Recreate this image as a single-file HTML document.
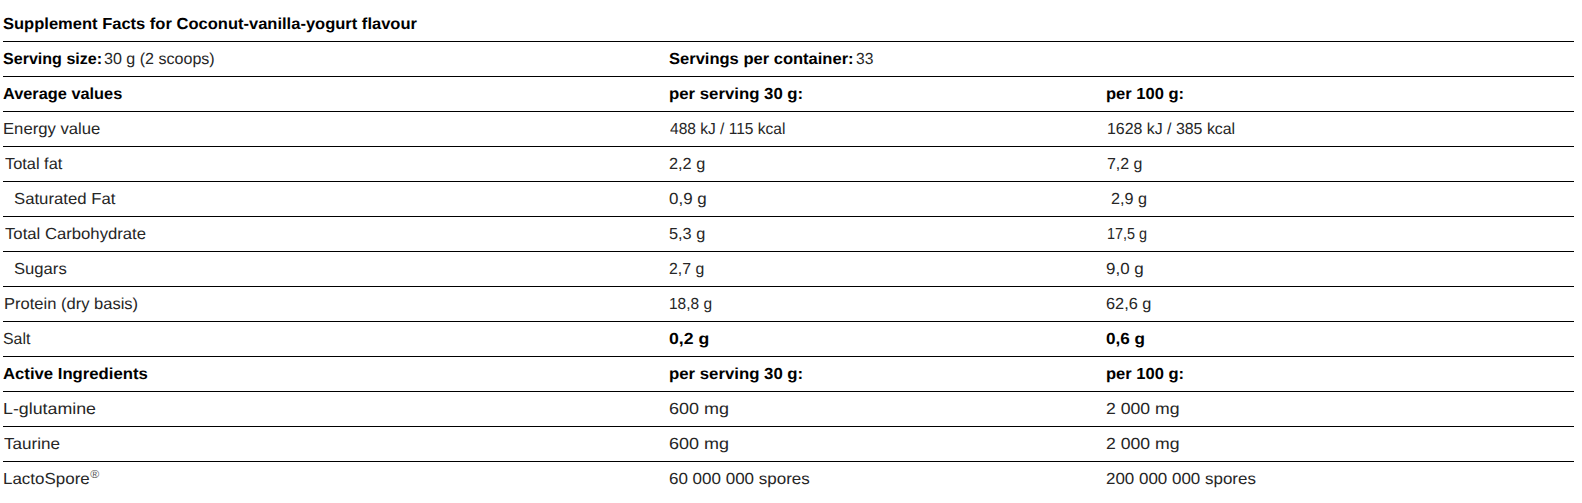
<!DOCTYPE html>
<html><head><meta charset="utf-8">
<style>
html,body{margin:0;padding:0;background:#fff;}
body{width:1582px;height:503px;overflow:hidden;position:relative;font-family:"Liberation Sans",sans-serif;font-size:16px;color:#262626;text-rendering:geometricPrecision;}
.l{position:absolute;left:3px;width:1571px;height:1px;background:#000;}
.c{position:absolute;white-space:pre;line-height:20px;height:20px;transform-origin:0 0;}
b{font-weight:bold;color:#000;}
sup{color:#555;font-size:11.5px;vertical-align:0;position:relative;top:-6px;margin-left:0.5px;}
</style></head><body>

<div class="l" style="top:41px"></div>
<div class="l" style="top:76px"></div>
<div class="l" style="top:111px"></div>
<div class="l" style="top:146px"></div>
<div class="l" style="top:181px"></div>
<div class="l" style="top:216px"></div>
<div class="l" style="top:251px"></div>
<div class="l" style="top:286px"></div>
<div class="l" style="top:321px"></div>
<div class="l" style="top:356px"></div>
<div class="l" style="top:391px"></div>
<div class="l" style="top:426px"></div>
<div class="l" style="top:461px"></div>
<div class="c" style="left:2.97px;top:15.00px;transform:scaleX(1.0325)"><b>Supplement Facts for Coconut-vanilla-yogurt flavour</b></div>
<div class="c" style="left:3.00px;top:50.00px;transform:scaleX(1.0041)"><b>Serving size:</b></div>
<div class="c" style="left:104.40px;top:50.00px;transform:scaleX(1.0038)">30 g (2 scoops)</div>
<div class="c" style="left:669.18px;top:50.00px;transform:scaleX(1.0328)"><b>Servings per container:</b></div>
<div class="c" style="left:855.73px;top:50.00px;transform:scaleX(0.9752)">33</div>
<div class="c" style="left:2.98px;top:85.00px;transform:scaleX(1.0209)"><b>Average values</b></div>
<div class="c" style="left:669.12px;top:85.00px;transform:scaleX(1.0480)"><b>per serving 30 g:</b></div>
<div class="c" style="left:1106.45px;top:85.00px;transform:scaleX(1.0329)"><b>per 100 g:</b></div>
<div class="c" style="left:2.83px;top:120.00px;transform:scaleX(1.0418)">Energy value</div>
<div class="c" style="left:670.21px;top:120.00px;transform:scaleX(0.9710)">488 kJ / 115 kcal</div>
<div class="c" style="left:1106.51px;top:120.00px;transform:scaleX(0.9937)">1628 kJ / 385 kcal</div>
<div class="c" style="left:4.55px;top:155.00px;transform:scaleX(1.0224)">Total fat</div>
<div class="c" style="left:669.18px;top:155.00px;transform:scaleX(1.0177)">2,2 g</div>
<div class="c" style="left:1106.50px;top:155.00px;transform:scaleX(0.9943)">7,2 g</div>
<div class="c" style="left:13.87px;top:190.00px;transform:scaleX(1.0458)">Saturated Fat</div>
<div class="c" style="left:669.16px;top:190.00px;transform:scaleX(1.0590)">0,9 g</div>
<div class="c" style="left:1111.09px;top:190.00px;transform:scaleX(1.0118)">2,9 g</div>
<div class="c" style="left:4.56px;top:225.00px;transform:scaleX(1.0433)">Total Carbohydrate</div>
<div class="c" style="left:669.17px;top:225.00px;transform:scaleX(1.0182)">5,3 g</div>
<div class="c" style="left:1106.64px;top:225.00px;transform:scaleX(0.9002)">17,5 g</div>
<div class="c" style="left:13.87px;top:260.00px;transform:scaleX(1.0401)">Sugars</div>
<div class="c" style="left:669.20px;top:260.00px;transform:scaleX(0.9883)">2,7 g</div>
<div class="c" style="left:1106.46px;top:260.00px;transform:scaleX(1.0590)">9,0 g</div>
<div class="c" style="left:3.53px;top:295.00px;transform:scaleX(1.0331)">Protein (dry basis)</div>
<div class="c" style="left:669.25px;top:295.00px;transform:scaleX(0.9667)">18,8 g</div>
<div class="c" style="left:1106.49px;top:295.00px;transform:scaleX(1.0187)">62,6 g</div>
<div class="c" style="left:3.01px;top:330.00px;transform:scaleX(0.9928)">Salt</div>
<div class="c" style="left:669.13px;top:330.00px;transform:scaleX(1.1034)"><b>0,2 g</b></div>
<div class="c" style="left:1106.46px;top:330.00px;transform:scaleX(1.0686)"><b>0,6 g</b></div>
<div class="c" style="left:2.96px;top:365.00px;transform:scaleX(1.0438)"><b>Active Ingredients</b></div>
<div class="c" style="left:669.12px;top:365.00px;transform:scaleX(1.0480)"><b>per serving 30 g:</b></div>
<div class="c" style="left:1106.45px;top:365.00px;transform:scaleX(1.0329)"><b>per 100 g:</b></div>
<div class="c" style="left:2.89px;top:400.00px;transform:scaleX(1.1122)">L-glutamine</div>
<div class="c" style="left:669.12px;top:400.00px;transform:scaleX(1.1231)">600 mg</div>
<div class="c" style="left:1106.45px;top:400.00px;transform:scaleX(1.1015)">2 000 mg</div>
<div class="c" style="left:4.00px;top:435.00px;transform:scaleX(1.0656)">Taurine</div>
<div class="c" style="left:669.12px;top:435.00px;transform:scaleX(1.1231)">600 mg</div>
<div class="c" style="left:1106.45px;top:435.00px;transform:scaleX(1.1015)">2 000 mg</div>
<div class="c" style="left:2.94px;top:470.00px;transform:scaleX(1.0598)">LactoSpore<sup>®</sup></div>
<div class="c" style="left:669.16px;top:470.00px;transform:scaleX(1.0621)">60 000 000 spores</div>
<div class="c" style="left:1106.47px;top:470.00px;transform:scaleX(1.0596)">200 000 000 spores</div>
</body></html>
